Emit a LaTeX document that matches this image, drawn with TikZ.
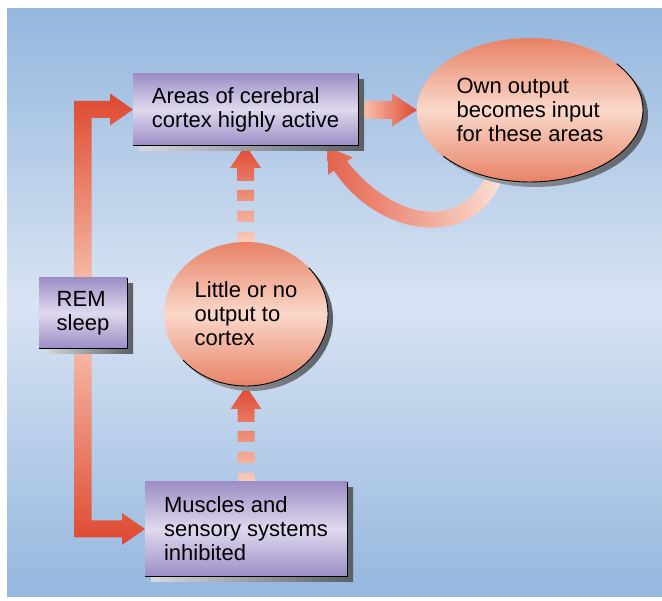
\documentclass[tikz,border=0pt]{standalone}
\usepackage{fontspec}
\setmainfont{Liberation Sans}
\usetikzlibrary{calc}
\usetikzlibrary{shapes.geometric}
\usetikzlibrary{shadows}

\definecolor{bgblue}{RGB}{148,183,222}
\definecolor{bglight}{RGB}{216,227,243}
\definecolor{boxpurple}{RGB}{157,142,198}
\definecolor{boxlight}{RGB}{223,217,238}
\definecolor{blobsalmon}{RGB}{232,130,102}
\definecolor{bloblight}{RGB}{249,216,202}
\definecolor{arrowred}{RGB}{223,72,48}
\definecolor{arrowpale}{RGB}{249,205,186}
\definecolor{shadelight}{RGB}{214,217,222}
\definecolor{shadedark}{RGB}{90,95,102}

\pgfdeclarelayer{back}
\pgfsetlayers{back,main}

\tikzset{
  lbl/.style={font=\fontsize{22}{24}\selectfont, text=black, align=left, inner sep=0pt, outer sep=0pt},
  box/.style={lbl, rectangle, top color=boxpurple, bottom color=boxpurple, middle color=boxlight,
    general shadow={shadow xshift=6pt, shadow yshift=-6pt, left color=shadelight, right color=shadedark}},
  blob/.style={lbl, ellipse, top color=blobsalmon, bottom color=blobsalmon, middle color=bloblight,
    general shadow={shadow xshift=5pt, shadow yshift=-5pt, left color=shadelight!70!shadedark, right color=shadedark}},
  rim/.style={black, line width=0.9pt},
}

\begin{document}
\begin{tikzpicture}[x=1pt, y=1pt]
\useasboundingbox (0,0) rectangle (662,601);

% boxes and blobs
\node[box, minimum width=225pt, minimum height=71pt] (cortex) at (245.5,491.5) {Areas of cerebral\\cortex highly active};
\node[blob, minimum width=226pt, minimum height=144pt] (own) at (530,491) {Own output\\becomes input\\for these areas};
\node[box, minimum width=88pt, minimum height=70pt] (rem) at (83,288) {REM\\sleep};
\node[blob, minimum width=164pt, minimum height=144pt] (little) at (246,287) {Little or no\\output to\\cortex};
\node[box, minimum width=202pt, minimum height=94pt] (muscles) at (246,72) {Muscles and\\sensory systems\\inhibited};

% dark rims on the lower right
\foreach \n in {cortex,rem,muscles}
  \draw[rim] (\n.north east) |- (\n.south west);
\foreach \n/\rx/\ry in {own/113/72, little/82/72}
  \draw[rim] ($(\n.center)+({\rx*cos(40)},{\ry*sin(40)})$) arc[start angle=40, end angle=-140, x radius=\rx, y radius=\ry];

\begin{pgfonlayer}{back}
\fill[white] (0,0) rectangle (662,601);
\shade[top color=bgblue, bottom color=bgblue, middle color=bglight] (7,4) rectangle (662,592);

% REM sleep -> cortex and REM sleep -> muscles
\shade[top color=arrowred, bottom color=arrowpale]
  ($(rem.center)+(-8.5,0)$) |- ($(cortex.west)+(-23,8.5)$) -- ++(0,7.5) -- (cortex.west)
  -- ++(-23,-16) -- ++(0,7.5) -| ($(rem.center)+(8.5,0)$) -- cycle;
\shade[top color=arrowpale, bottom color=arrowred]
  ($(rem.center)+(-8.5,0)$) |- ($(muscles.west)+(-23,-8.5)$) -- ++(0,-7.5) -- (muscles.west)
  -- ++(-23,16) -- ++(0,-7.5) -| ($(rem.center)+(8.5,0)$) -- cycle;

% cortex -> own output
\shade[left color=arrowpale, right color=arrowred]
  ($(cortex.east)+(0,9)$) -- ($(own.west)+(-25,9)$) -- ++(0,7.5) -- (own.west)
  -- ++(-25,-16.5) -- ++(0,7.5) -- ($(cortex.east)+(0,-9)$) -- cycle;

% broken arrows going up
\foreach \src/\dst in {little/cortex, muscles/little}
  \shade[top color=arrowred, bottom color=arrowpale]
    (\dst.south) -- ++(15.5,-23) -- ++(-7,0) -- ++(0,-13) -- ++(-17,0) -- ++(0,13) -- ++(-7,0) -- cycle
    ($(\dst.south)+(-8.5,-45)$) rectangle ++(17,-11)
    ($(\dst.south)+(-8.5,-66)$) rectangle ++(17,-11)
    ($(\dst.south)+(-8.5,-87)$) rectangle ($(\src.north)+(8.5,0)$);

% loop back from own output into the cortex
\begin{scope}[shift={(own.south)}]
\shade[left color=arrowred!80!arrowpale, right color=arrowpale!60!white]
  (-25.6,8) .. controls (-52.6,-70.2) and (-150.6,-57.4) .. (-196.1,11.4)
  -- (-201.8,7.4) -- (-202.7,34.8) -- (-177.2,24.6) -- (-182.9,20.6)
  .. controls (-137.4,-36.9) and (-67.4,-53.1) .. (-40.4,14) -- cycle;
\end{scope}
\end{pgfonlayer}
\end{tikzpicture}
\end{document}
